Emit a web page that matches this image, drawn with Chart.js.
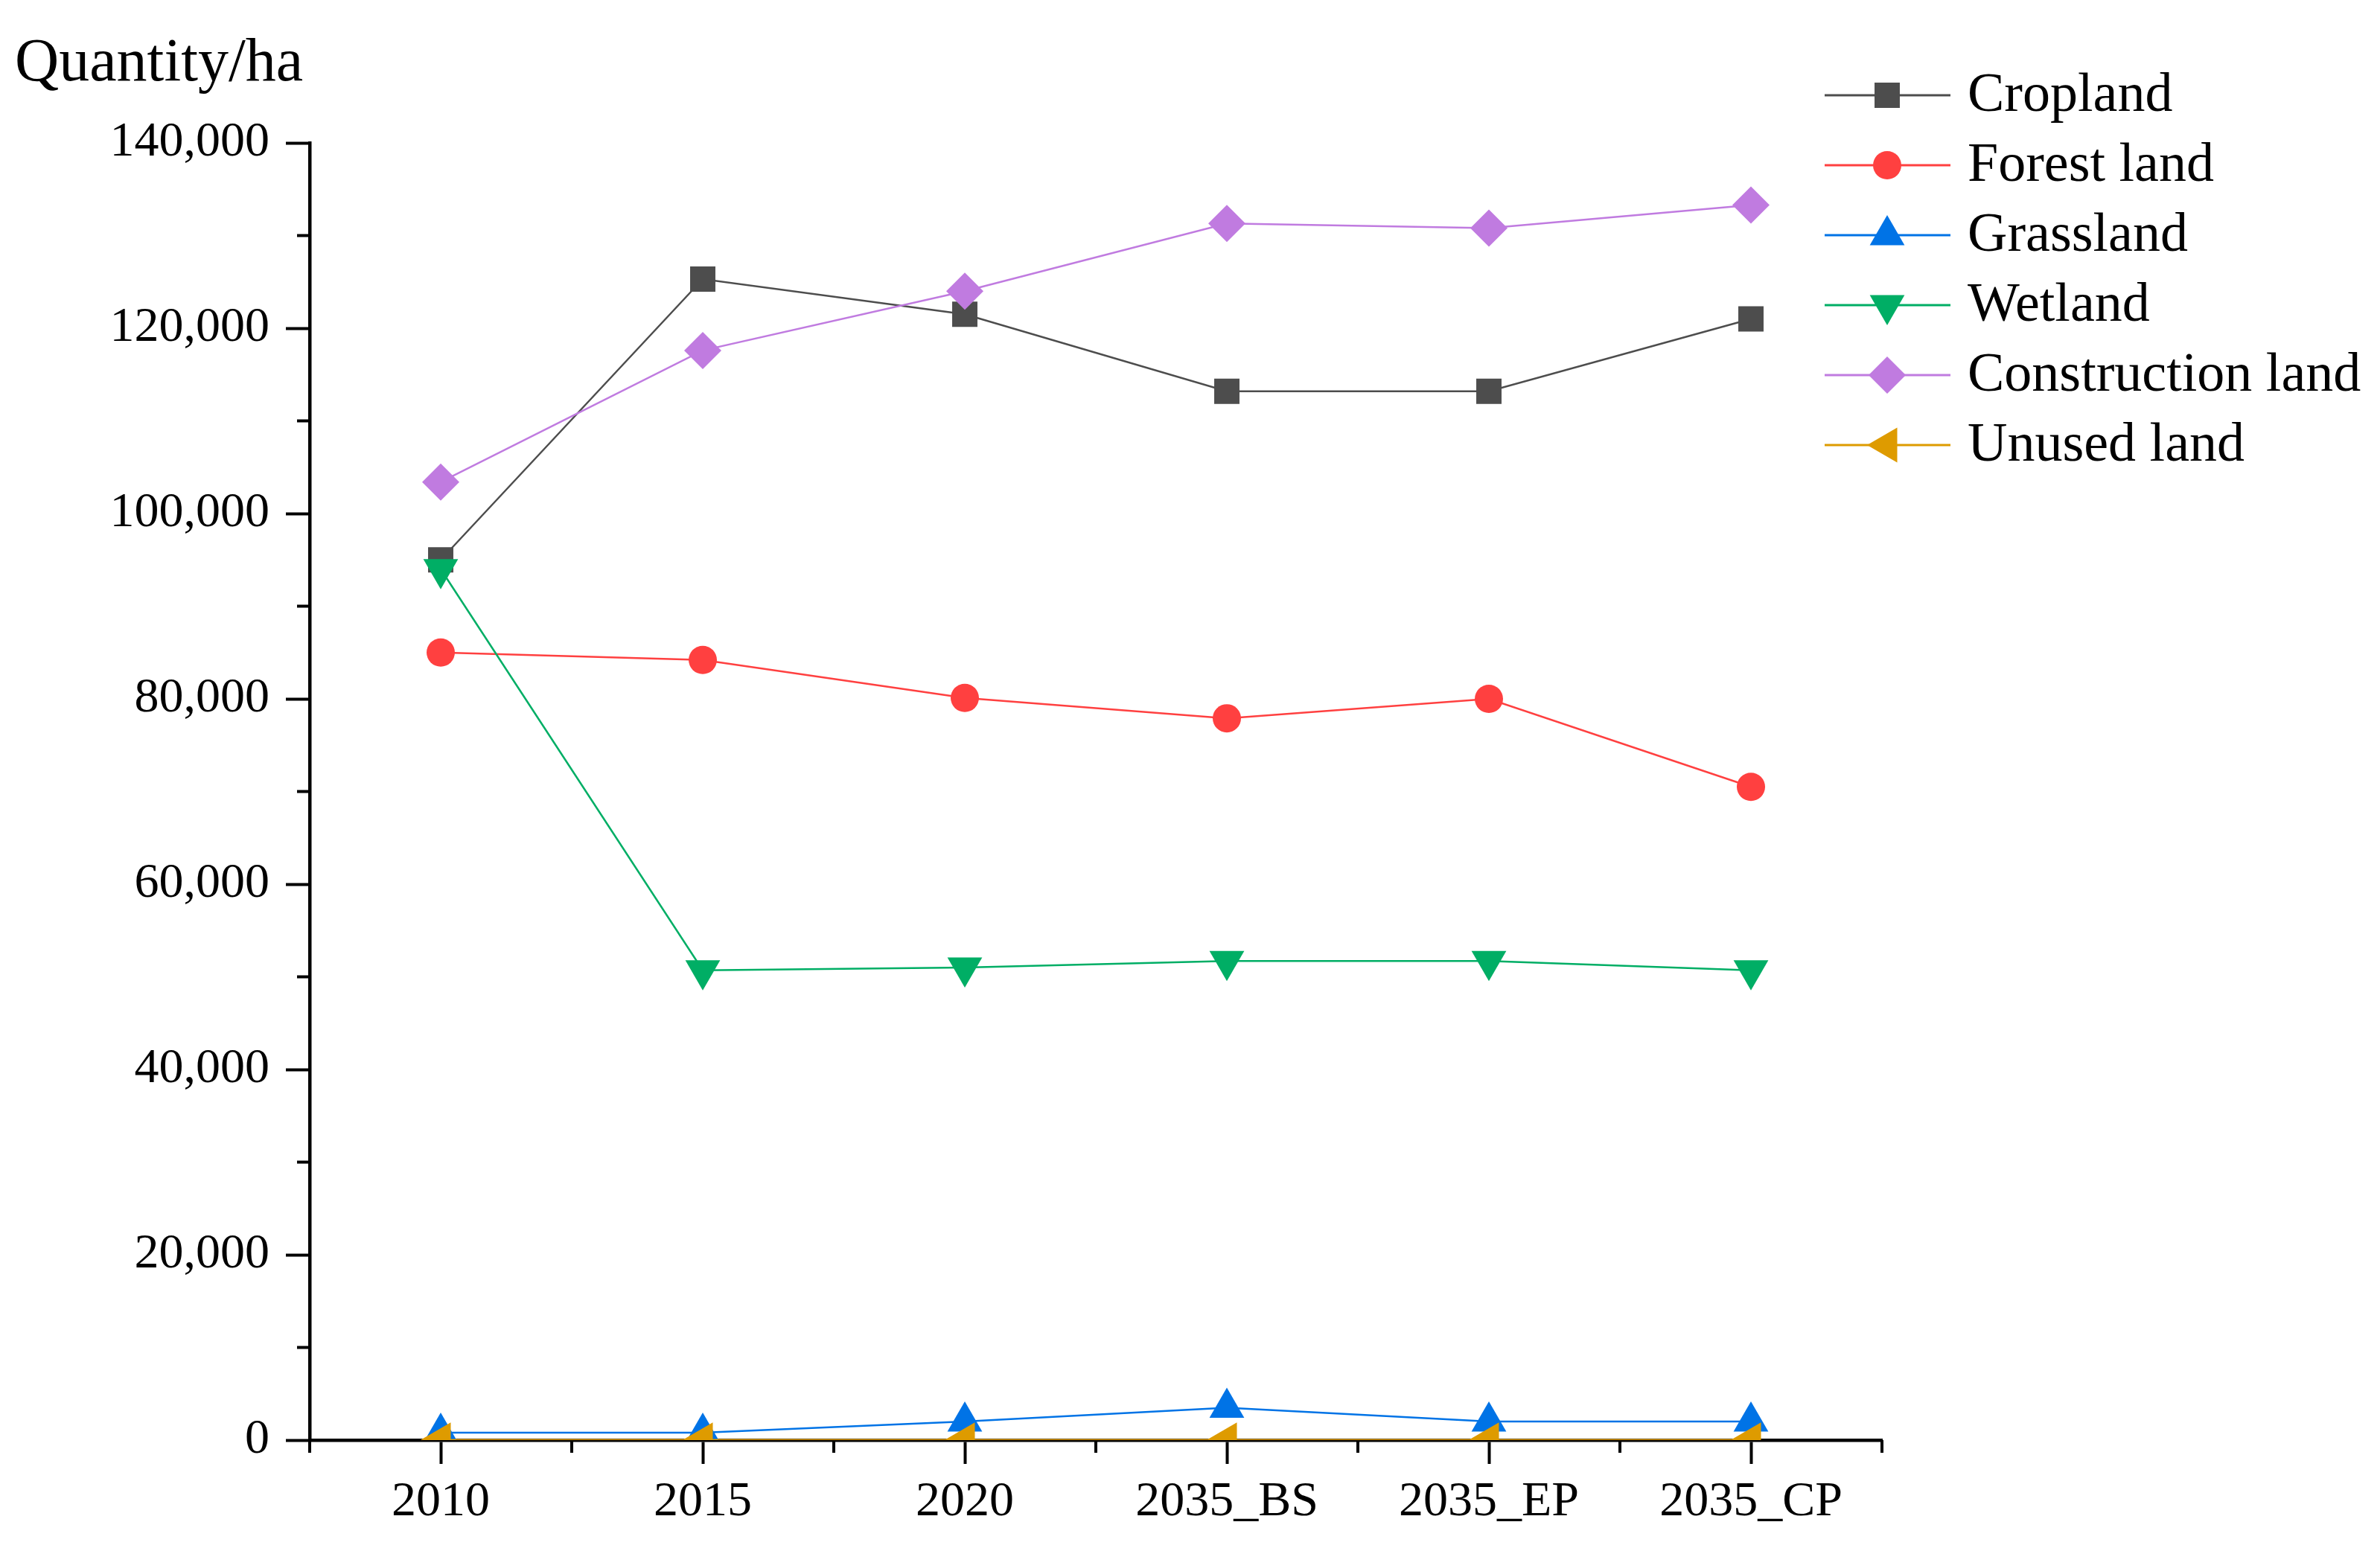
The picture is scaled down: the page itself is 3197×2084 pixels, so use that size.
<!DOCTYPE html>
<html>
<head>
<meta charset="utf-8">
<title>Land use quantity</title>
<script src="https://cdn.jsdelivr.net/npm/chart.js@4.4.1/dist/chart.umd.min.js"></script>
<style>
  html, body { margin: 0; padding: 0; background: #fff; }
  #wrap { width: 3197px; height: 2084px; }
</style>
</head>
<body>
<div id="wrap"><canvas id="landChart" width="3197" height="2084"></canvas></div>
<script>
// values (ha)
const categories = ['2010', '2015', '2020', '2035_BS', '2035_EP', '2035_CP'];
const cropland     = [95000, 125300, 121500, 113200, 113200, 121000];
const forestLand   = [85000, 84200, 80100, 77900, 80000, 70500];
const grassland    = [800, 800, 2000, 3500, 2000, 2000];
const wetland      = [94000, 50700, 51000, 51700, 51700, 50700];
const construction = [103400, 117600, 124000, 131300, 130800, 133300];
const unusedLand   = [20, 20, 20, 20, 20, 20];
const yTickValues  = [0, 20000, 40000, 60000, 80000, 100000, 120000, 140000];

const seriesNames  = ['Cropland', 'Forest land', 'Grassland', 'Wetland', 'Construction land', 'Unused land'];
const seriesData   = [cropland, forestLand, grassland, wetland, construction, unusedLand];
const colors       = ['#4d4d4d', '#ff4040', '#0073e6', '#00ae65', '#c07be0', '#de9b00'];
const pointStyles  = ['rect', 'circle', 'triangle', 'triangle', 'rectRot', 'triangle'];
const rotations    = [0, 0, 0, 180, 0, 270];
const radii        = [24, 19, 27, 27, 25, 27];

const FONT = "'Liberation Serif', 'Times New Roman', serif";

// same shapes as the chart points, for the legend
function drawMarker(ctx, style, x, y, r, rot) {
  ctx.beginPath();
  if (style === 'rect') {
    const h = Math.SQRT1_2 * r;
    ctx.rect(x - h, y - h, 2 * h, 2 * h);
  } else if (style === 'circle') {
    ctx.arc(x, y, r, 0, Math.PI * 2);
  } else if (style === 'rectRot') {
    ctx.moveTo(x, y - r); ctx.lineTo(x + r, y); ctx.lineTo(x, y + r); ctx.lineTo(x - r, y);
  } else {
    let a = rot * Math.PI / 180;
    ctx.moveTo(x + Math.sin(a) * r, y - Math.cos(a) * r);
    for (let k = 0; k < 2; k++) {
      a += Math.PI * 2 / 3;
      ctx.lineTo(x + Math.sin(a) * r, y - Math.cos(a) * r);
    }
  }
  ctx.closePath();
  ctx.fill();
}

const extras = {
  id: 'extras',
  afterDraw(chart) {
    const ctx = chart.ctx;
    const xs = chart.scales.x, ys = chart.scales.y;
    ctx.save();
    // minor ticks
    ctx.strokeStyle = '#000';
    ctx.lineWidth = 4;
    ctx.beginPath();
    for (let k = 0; k <= categories.length; k++) {
      const px = xs.getPixelForValue(k - 0.5);
      ctx.moveTo(px, ys.bottom);
      ctx.lineTo(px, ys.bottom + 17);
    }
    for (let i = 0; i < yTickValues.length - 1; i++) {
      const py = ys.getPixelForValue((yTickValues[i] + yTickValues[i + 1]) / 2);
      ctx.moveTo(xs.left, py);
      ctx.lineTo(xs.left - 17, py);
    }
    ctx.stroke();

    // axis title
    ctx.fillStyle = '#000';
    ctx.font = '82px ' + FONT;
    ctx.textBaseline = 'middle';
    ctx.textAlign = 'left';
    ctx.fillText('Quantity/ha', 20, 86);

    // legend
    ctx.font = '74px ' + FONT;
    chart.data.datasets.forEach((ds, i) => {
      const y = 128 + i * 94;
      ctx.strokeStyle = colors[i];
      ctx.lineWidth = 3;
      ctx.beginPath();
      ctx.moveTo(2451, y);
      ctx.lineTo(2620, y);
      ctx.stroke();
      ctx.fillStyle = colors[i];
      drawMarker(ctx, pointStyles[i], 2535, y, radii[i], rotations[i]);
      ctx.fillStyle = '#000';
      ctx.fillText(ds.label, 2643, y + 2);
    });
    ctx.restore();
  }
};

new Chart(document.getElementById('landChart'), {
  type: 'line',
  data: {
    labels: categories,
    datasets: seriesNames.map((name, i) => ({
      label: name,
      data: seriesData[i],
      borderColor: colors[i],
      backgroundColor: colors[i],
      borderWidth: 2.5,
      tension: 0,
      pointStyle: pointStyles[i],
      pointRotation: rotations[i],
      pointRadius: radii[i],
      pointHoverRadius: radii[i],
      pointBorderWidth: 0,
      pointBackgroundColor: colors[i],
      order: seriesNames.length - i,
    })),
  },
  options: {
    responsive: false,
    devicePixelRatio: 1,
    animation: false,
    layout: { padding: { left: 0, right: 669, top: 192, bottom: 0 } },
    plugins: {
      legend: { display: false },
      tooltip: { enabled: false },
    },
    scales: {
      x: {
        offset: true,
        z: 1,
        afterFit: s => { s.height = 149; },
        border: { display: true, color: '#000', width: 4.5 },
        grid: { drawOnChartArea: false, drawTicks: true, tickLength: 32, tickWidth: 4, tickColor: '#000' },
        ticks: { color: '#000', padding: 12, maxRotation: 0, font: { family: FONT, size: 66 } },
      },
      y: {
        min: 0,
        max: 140000,
        z: 1,
        afterFit: s => { s.width = 416; },
        afterBuildTicks: s => { s.ticks = yTickValues.map(v => ({ value: v })); },
        border: { display: true, color: '#000', width: 4.5 },
        grid: { drawOnChartArea: false, drawTicks: true, tickLength: 32, tickWidth: 4, tickColor: '#000' },
        ticks: {
          color: '#000',
          padding: 22,
          font: { family: FONT, size: 66 },
          callback: v => v.toLocaleString('en-US'),
        },
      },
    },
  },
  plugins: [extras],
});
</script>
</body>
</html>
